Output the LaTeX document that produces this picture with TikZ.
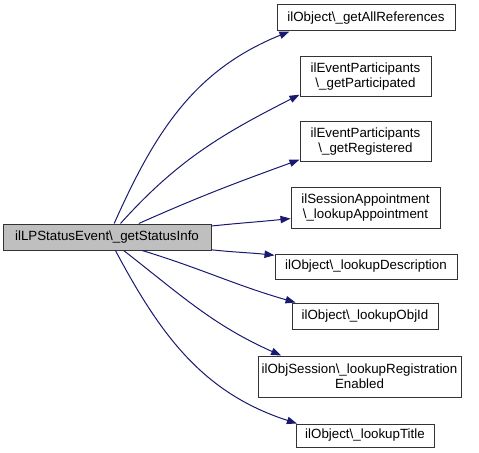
\documentclass[tikz,border=0pt]{standalone}
\usepackage{fontspec}
\setmainfont{Liberation Sans}
\usetikzlibrary{arrows.meta}
\definecolor{edgeblue}{HTML}{191970}
\tikzstyle{func}=[draw=black!80,fill=white,line width=0.75pt,align=center,inner sep=0pt,font=\fontsize{10}{11.25}\selectfont]
\tikzstyle{edge}=[draw=edgeblue,line width=0.75pt,-{Triangle[length=7.5pt,width=5.5pt]}]
\newcommand{\bsu}{\textbackslash\_}
\begin{document}
\begin{tikzpicture}[x=0.75pt,y=0.75pt]

  \useasboundingbox (0,0) rectangle (479,-453);

   % caller
   \node[func,fill=black!25,minimum width=156pt,minimum height=19.5pt] (src) at (107,-237) {ilLPStatusEvent\bsu getStatusInfo};

   % callees
   \foreach \x/\y/\w/\h/\name/\label in {
        366/18/178/26/t1/{ilObject\bsu getAllReferences},
        365.5/77/131/40/t2/{ilEventParticipants\\\bsu getParticipated},
        365.5/142/131/40/t3/{ilEventParticipants\\\bsu getRegistered},
        365.5/208/149/40/t4/{ilSessionAppointment\\\bsu lookupAppointment},
        366/266.5/182/25/t5/{ilObject\bsu lookupDescription},
        365/316/146/26/t6/{ilObject\bsu lookupObjId},
        359.5/376.5/203/41/t7/{ilObjSession\bsu lookupRegistration\\Enabled},
        365/435.5/138/23/t8/{ilObject\bsu lookupTitle}}
          \node[func,minimum width=\w*0.75pt,minimum height=\h*0.75pt] (\name) at (\x,-\y) {\label};

   % calls
   \foreach \dest/\a/\b/\o/\i in {t1/62/190/66/202, t2/45/195/48/207, t3/23/195/24/200,
        t4/6/188/6/186, t5/-7/173/-6/174, t6/-21/169/-17/164,
        t7/-39/165/-38/156, t8/-58/170/-62/162}
          \draw[edge] (src.\a) to[out=\o,in=\i] (\dest.\b);

\end{tikzpicture}
\end{document}
